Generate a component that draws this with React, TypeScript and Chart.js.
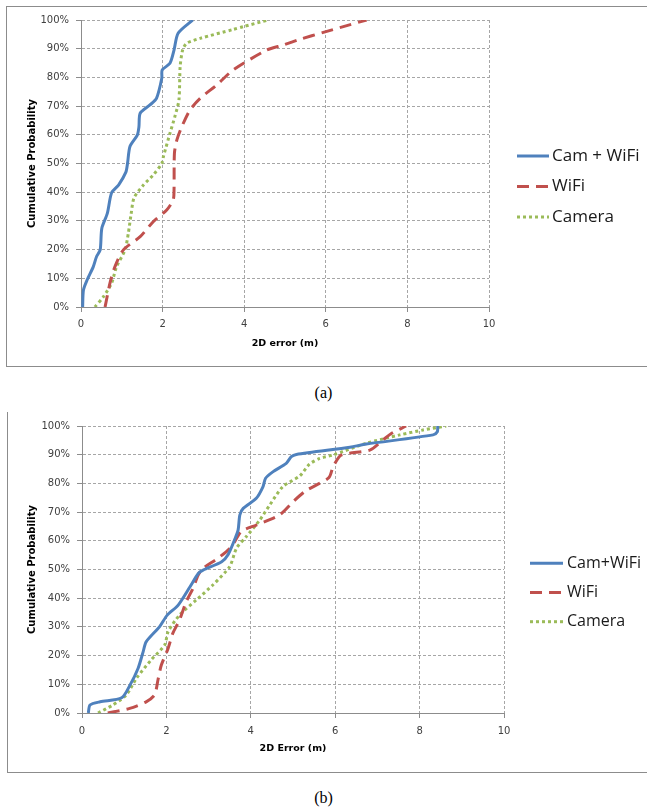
import React, { useEffect, useRef } from 'react';
import { Chart, registerables } from 'chart.js';

Chart.register(...registerables);

// ---------- Data: chart (a) ----------
const camWifiA_x = [0.04, 0.06, 0.15, 0.30, 0.38, 0.47, 0.51, 0.645, 0.75, 0.92, 1.10, 1.14, 1.20, 1.38, 1.42, 1.45, 1.69, 1.85, 1.98, 1.99, 2.18, 2.28, 2.38, 2.74];
const camWifiA_y = [0, 5.9, 9.4, 14, 17.5, 19.9, 27.4, 32.6, 39.8, 42.5, 47, 50, 55.9, 59.9, 62.8, 67.5, 70.4, 72.7, 79.7, 82.6, 84.9, 89.5, 95.4, 100];

const wifiA_x = [0.59, 0.71, 0.83, 1.04, 1.45, 1.77, 2.10, 2.26, 2.28, 2.29, 2.35, 2.47, 2.67, 2.92, 3.33, 3.73, 4.55, 4.96, 5.37, 5.94, 6.43, 7.0];
const wifiA_y = [0, 8.3, 14, 19.9, 24.5, 29.7, 33.8, 37.3, 40.5, 53.6, 58.2, 62.8, 68.6, 72.7, 77.4, 82.6, 89.5, 91.3, 93.3, 95.7, 97.7, 100];

const cameraA_x = [0.34, 0.55, 0.75, 0.87, 1.08, 1.16, 1.23, 1.30, 1.53, 1.77, 1.98, 2.02, 2.18, 2.30, 2.40, 2.43, 2.49, 2.59, 2.92, 3.73, 3.98, 4.59];
const cameraA_y = [0, 3.6, 8.3, 14, 19.9, 25.7, 32.6, 38, 42.5, 46, 50, 52.4, 60.5, 66.3, 72.1, 83.7, 89.5, 91.9, 93.6, 96.7, 97.7, 100];

// ---------- Data: chart (b) ----------
const camWifiB_x = [0.15, 0.19, 0.43, 0.94, 1.14, 1.33, 1.45, 1.52, 1.84, 2.02, 2.28, 2.56, 2.76, 2.87, 3.31, 3.46, 3.63, 3.70, 3.74, 3.82, 4.13, 4.29, 4.35, 4.53, 4.84, 4.96, 5.08, 6.35, 6.74, 8.32, 8.42, 8.43];
const camWifiB_y = [0, 2.8, 3.9, 5.3, 9.8, 15.6, 21.4, 24.8, 30.1, 34.1, 37.6, 44, 48.7, 49.8, 52.7, 55.1, 60.9, 63.8, 69, 71.3, 74.8, 78.9, 81.8, 84.1, 87, 89.3, 90.1, 92.6, 93.7, 96.9, 98, 100];

const wifiB_x = [0.61, 1.13, 1.52, 1.72, 1.80, 1.88, 2.04, 2.15, 2.31, 2.47, 2.63, 2.75, 2.87, 3.22, 3.54, 3.77, 4.13, 4.68, 5.00, 5.30, 5.85, 5.95, 6.15, 6.82, 7.13, 7.33, 7.68];
const wifiB_y = [0, 1.6, 3.9, 6.3, 11.5, 16.7, 22.5, 27.7, 32.4, 38.8, 43.4, 48, 50.4, 53.9, 57.9, 63.2, 65.5, 69, 73.6, 77.4, 82, 85.8, 89.9, 91.6, 95.1, 97.4, 100];

const cameraB_x = [0.38, 0.73, 1.05, 1.29, 1.64, 1.96, 2.04, 2.31, 2.71, 3.10, 3.50, 3.66, 3.89, 4.21, 4.45, 4.76, 5.16, 5.39, 5.63, 5.95, 6.74, 7.53, 8.08, 8.63];
const cameraB_y = [0, 2.8, 6.3, 12.1, 18.5, 23.7, 28.3, 34.1, 39.4, 44.6, 51, 57.4, 61.4, 67.2, 72.5, 78.9, 82.6, 86.7, 88.7, 89.9, 94, 96.9, 98.6, 100];

// ---------- Labels ----------
const xTicksValues = [0, 2, 4, 6, 8, 10];
const yTitle = 'Cumulative Probability';
const xTitleA = '2D error (m)';
const xTitleB = '2D Error (m)';
const legendA = ['Cam + WiFi', 'WiFi', 'Camera'];
const legendB = ['Cam+WiFi', 'WiFi', 'Camera'];

const BLUE = '#4F81BD';
const RED = '#C0504D';
const GREEN = '#9BBB59';

const toPts = (xs: number[], ys: number[]) => xs.map((x, i) => ({ x, y: ys[i] }));

const sideLegend = {
  id: 'sideLegend',
  afterDraw(chart: any, _args: any, opts: any) {
    const ctx = chart.ctx;
    ctx.save();
    chart.data.datasets.forEach((ds: any, i: number) => {
      const y = opts.y0 + i * opts.dy;
      ctx.beginPath();
      ctx.setLineDash(ds.borderDash || []);
      ctx.lineWidth = ds.borderWidth;
      ctx.strokeStyle = ds.borderColor;
      ctx.lineCap = 'butt';
      ctx.moveTo(opts.x, y);
      ctx.lineTo(opts.x + opts.len, y);
      ctx.stroke();
      ctx.setLineDash([]);
      ctx.fillStyle = '#1a1a1a';
      ctx.font = opts.font;
      ctx.textBaseline = 'middle';
      ctx.textAlign = 'left';
      ctx.fillText(ds.label, opts.textX, y);
    });
    ctx.restore();
  },
};

function makeDatasets(labels: string[], blue: any[], red: any[], green: any[]) {
  return [
    { label: labels[0], data: blue, borderColor: BLUE, borderWidth: 3, borderDash: [], pointRadius: 0, tension: 0.25, fill: false },
    { label: labels[1], data: red, borderColor: RED, borderWidth: 3, borderDash: [12, 7], pointRadius: 0, tension: 0.25, fill: false },
    { label: labels[2], data: green, borderColor: GREEN, borderWidth: 3, borderDash: [3, 3], pointRadius: 0, tension: 0.25, fill: false },
  ];
}

function makeOptions(p: any) {
  const tickFont = { family: 'DejaVu Sans', size: 10 };
  const titleFont = { family: 'DejaVu Sans', size: 9.5, weight: 'bold' as const };
  return {
    animation: false,
    responsive: false,
    layout: { padding: { left: 0, top: p.padTop, right: p.padRight, bottom: 0 } },
    plugins: {
      legend: { display: false },
      tooltip: { enabled: false },
      sideLegend: p.legend,
    },
    scales: {
      x: {
        type: 'linear',
        min: 0,
        max: 10,
        afterBuildTicks: (s: any) => { s.ticks = xTicksValues.map((v) => ({ value: v })); },
        ticks: { padding: p.xTickPad, font: tickFont, color: '#404040' },
        grid: { color: '#a6a6a6', lineWidth: 1, tickLength: 5, tickColor: '#8c8c8c', tickBorderDash: [], tickWidth: 1 },
        border: { display: true, color: '#8c8c8c', width: 1, dash: [3, 2] },
        title: { display: true, text: p.xTitle, font: titleFont, color: '#000', padding: { top: 0, bottom: p.xTitlePad } },
        afterFit: (s: any) => { s.height = p.xAxisH; },
      },
      y: {
        type: 'linear',
        min: 0,
        max: 100,
        ticks: { stepSize: 10, padding: 7, font: tickFont, color: '#404040', callback: (v: any) => v + '%' },
        grid: { color: '#a6a6a6', lineWidth: 1, tickLength: 5, tickColor: '#8c8c8c', tickBorderDash: [], tickWidth: 1 },
        border: { display: true, color: '#8c8c8c', width: 1, dash: [3, 2] },
        title: { display: true, text: yTitle, font: { family: 'DejaVu Sans', size: 10, weight: 'bold' as const }, color: '#000', padding: { top: p.yTitlePad, bottom: 0 } },
        afterFit: (s: any) => { s.width = p.yAxisW; },
      },
    },
  };
}

function ChartCanvas(props: { left: number; top: number; width: number; height: number; datasets: any[]; params: any }) {
  const ref = useRef<HTMLCanvasElement | null>(null);
  useEffect(() => {
    if (!ref.current) return;
    const chart = new Chart(ref.current, {
      type: 'line',
      data: { datasets: props.datasets },
      options: makeOptions(props.params) as any,
      plugins: [sideLegend as any],
    });
    return () => chart.destroy();
  }, []);
  return (
    <canvas
      ref={ref}
      width={props.width}
      height={props.height}
      style={{ position: 'absolute', left: props.left, top: props.top, width: props.width, height: props.height }}
    />
  );
}

export default function App() {
  const dsA = makeDatasets(legendA, toPts(camWifiA_x, camWifiA_y), toPts(wifiA_x, wifiA_y), toPts(cameraA_x, cameraA_y));
  const dsB = makeDatasets(legendB, toPts(camWifiB_x, camWifiB_y), toPts(wifiB_x, wifiB_y), toPts(cameraB_x, cameraB_y));
  const paramsA = {
    padTop: 14, padRight: 158, yAxisW: 75, xAxisH: 60, xTickPad: 6, xTitlePad: 18, yTitlePad: 20.5, xTitle: xTitleA,
    legend: { x: 511, len: 32, textX: 546, y0: 150, dy: 30.5, font: '17px "Open Sans"' },
  };
  const paramsB = {
    padTop: 15, padRight: 143, yAxisW: 75, xAxisH: 59, xTickPad: 7, xTitlePad: 17.3, yTitlePad: 19, xTitle: xTitleB,
    legend: { x: 523, len: 33, textX: 560, y0: 152.3, dy: 29.2, font: '16px "Open Sans"' },
  };
  const caption: React.CSSProperties = {
    position: 'absolute', left: 0, width: 647, textAlign: 'center',
    fontFamily: '"Liberation Serif", "Times New Roman", serif', fontSize: 16, lineHeight: '18px', color: '#000',
  };
  return (
    <div style={{ position: 'absolute', left: 0, top: 0, width: 647, height: 810, overflow: 'hidden', background: '#fff' }}>
      <div style={{ position: 'absolute', left: 6, top: 6, width: 660, height: 361, boxSizing: 'border-box', borderTop: '1px solid #8c8c8c', borderLeft: '1px solid #8c8c8c', borderBottom: '1px solid #8c8c8c' }} />
      <ChartCanvas left={6} top={6} width={641} height={361} datasets={dsA} params={paramsA} />
      <div style={{ ...caption, top: 384 }}>(a)</div>
      <div style={{ position: 'absolute', left: 7, top: 412, width: 660, height: 361, boxSizing: 'border-box', borderLeft: '1px solid #8c8c8c', borderBottom: '1px solid #8c8c8c' }} />
      <ChartCanvas left={7} top={411} width={640} height={361} datasets={dsB} params={paramsB} />
      <div style={{ ...caption, top: 789 }}>(b)</div>
    </div>
  );
}
